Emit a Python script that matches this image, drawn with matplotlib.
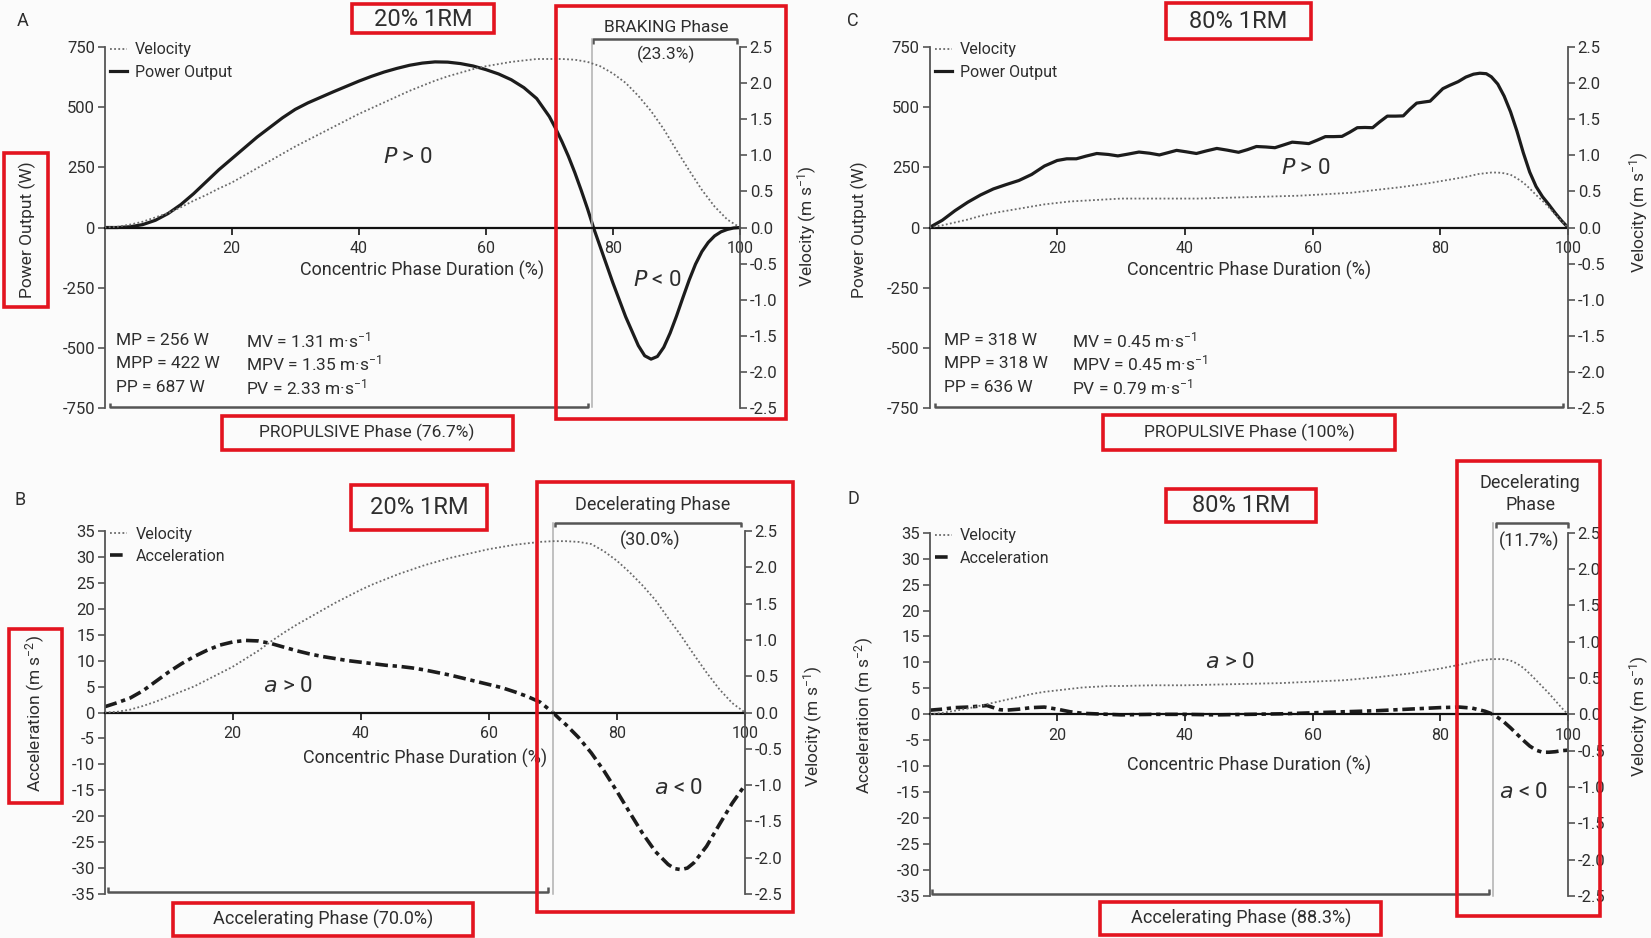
import numpy as np
import matplotlib
matplotlib.use('Agg')
import matplotlib.pyplot as plt
from matplotlib.patches import Rectangle
from matplotlib.lines import Line2D

plt.rcParams['font.family'] = ['Roboto', 'DejaVu Sans']
plt.rcParams['mathtext.default'] = 'regular'
plt.rcParams['axes.unicode_minus'] = False

# ---- data (x = % of concentric phase) ----
# A: 20% 1RM power / velocity
a_pow_x = [0, 2, 4, 6, 8, 10, 12, 14, 16, 18, 20, 22, 24, 26, 28, 30, 32, 34, 36, 38, 40,
           42, 44, 46, 48, 50, 52, 54, 56, 58, 60, 62, 64, 66, 68, 70, 71, 72, 73, 74, 75,
           76, 77, 78, 79, 80, 81, 82, 83, 84, 85, 86, 87, 88, 89, 90, 91, 92, 93, 94, 95,
           96, 97, 98, 99, 100]
a_pow_y = [0, 0, 3, 12, 30, 58, 95, 140, 190, 240, 285, 330, 375, 415, 455, 490, 517, 540,
           563, 585, 607, 627, 645, 660, 673, 682, 687, 686, 680, 670, 655, 637, 613, 580,
           535, 460, 410, 355, 295, 228, 155, 78, -5, -80, -155, -230, -300, -370, -430,
           -490, -532, -546, -535, -497, -438, -368, -292, -218, -152, -100, -62, -35, -18,
           -8, -2, 0]
a_vel_x = [0, 2, 4, 6, 8, 10, 12, 14, 16, 18, 20, 22, 24, 26, 28, 30, 32, 34, 36, 38, 40,
           42, 44, 46, 48, 50, 52, 54, 56, 58, 60, 62, 64, 66, 68, 70, 72, 74, 76, 78, 80,
           82, 84, 86, 88, 90, 92, 94, 96, 98, 100]
a_vel_y = [0, 0.01, 0.04, 0.08, 0.14, 0.2, 0.28, 0.37, 0.45, 0.54, 0.62, 0.72, 0.82, 0.92,
           1.02, 1.12, 1.21, 1.30, 1.39, 1.48, 1.57, 1.65, 1.73, 1.81, 1.89, 1.96, 2.03,
           2.09, 2.14, 2.19, 2.23, 2.26, 2.29, 2.31, 2.33, 2.33, 2.33, 2.32, 2.29, 2.23,
           2.13, 2.0, 1.82, 1.61, 1.36, 1.07, 0.79, 0.52, 0.29, 0.11, 0]

# B: 20% 1RM acceleration / velocity
b_acc_x = [0, 2, 4, 6, 8, 10, 12, 14, 16, 18, 20, 22, 24, 26, 28, 30, 32, 34, 36, 38, 40,
           42, 44, 46, 48, 50, 52, 54, 56, 58, 60, 62, 64, 66, 68, 69, 70, 71, 72, 74, 76,
           78, 80, 82, 84, 86, 88, 89, 90, 91, 92, 94, 96, 98, 100]
b_acc_y = [1.1, 1.9, 2.8, 4.2, 6.0, 7.8, 9.4, 10.8, 12.0, 13.0, 13.6, 13.9, 13.8, 13.3,
           12.6, 11.9, 11.3, 10.8, 10.4, 10.0, 9.7, 9.4, 9.1, 8.9, 8.6, 8.2, 7.7, 7.2, 6.6,
           6.0, 5.4, 4.8, 4.0, 3.1, 2.0, 1.0, 0, -1.2, -2.3, -4.8, -7.8, -11.3, -15.2,
           -19.3, -23.3, -26.8, -29.3, -30.1, -30.3, -30.0, -29.0, -25.8, -21.6, -17.5, -14.0]
b_vel_x = a_vel_x
b_vel_y = [0, 0.01, 0.04, 0.09, 0.15, 0.22, 0.29, 0.36, 0.45, 0.54, 0.63, 0.74, 0.85, 0.98,
           1.10, 1.21, 1.31, 1.41, 1.51, 1.60, 1.69, 1.77, 1.84, 1.91, 1.97, 2.03, 2.08,
           2.13, 2.17, 2.21, 2.25, 2.28, 2.31, 2.33, 2.35, 2.36, 2.36, 2.35, 2.32, 2.22,
           2.09, 1.93, 1.75, 1.55, 1.30, 1.06, 0.80, 0.55, 0.32, 0.13, 0]

# C: 80% 1RM power / velocity
c_pow_x = [0, 2, 4, 6, 8, 10, 12, 14, 16, 18, 20, 21.5, 23, 24.5, 26.2, 28, 29.5, 31, 32.8,
           34.5, 36, 37.3, 38.7, 40.2, 41.8, 43.4, 45, 46.6, 48.4, 49.8, 51.2, 52.7, 54.1,
           55.4, 56.8, 58.2, 59.4, 60.7, 62, 63.3, 64.6, 65.8, 67, 68.2, 69.4, 70.5, 71.7,
           73, 74.2, 75.2, 76.3, 77.3, 78.4, 79.4, 80.4, 81.5, 82.8, 84, 85.2, 86.2, 87.2,
           88, 89, 90, 91, 92, 93, 94, 95, 96, 97, 98, 99, 100]
c_pow_y = [0, 30, 70, 105, 135, 160, 178, 195, 220, 255, 278, 285, 285, 296, 307, 303, 297,
           304, 313, 308, 301, 310, 320, 314, 307, 318, 328, 321, 312, 323, 336, 334, 331,
           342, 354, 351, 348, 362, 377, 377, 378, 395, 414, 415, 414, 438, 462, 462, 463,
           490, 516, 520, 524, 550, 576, 590, 605, 624, 636, 640, 638, 625, 595, 545, 480,
           400, 310, 230, 170, 128, 95, 60, 28, 0]
c_vel_x = [0, 2, 4, 6, 8, 10, 12, 14, 16, 18, 20, 22, 24, 26, 28, 30, 34, 38, 42, 46, 50,
           54, 58, 62, 66, 70, 74, 78, 82, 84, 86, 88, 89, 90, 91, 92, 93, 94, 95, 96, 97,
           98, 99, 100]
c_vel_y = [0, 0.03, 0.07, 0.11, 0.16, 0.2, 0.23, 0.26, 0.29, 0.32, 0.34, 0.36, 0.37, 0.38,
           0.39, 0.4, 0.4, 0.4, 0.4, 0.41, 0.42, 0.43, 0.44, 0.46, 0.48, 0.52, 0.56, 0.61,
           0.67, 0.7, 0.74, 0.76, 0.76, 0.75, 0.73, 0.68, 0.62, 0.54, 0.45, 0.37, 0.28,
           0.18, 0.09, 0]

# D: 80% 1RM acceleration / velocity
d_acc_x = [0, 2, 4, 6, 8, 9, 10, 11, 12, 14, 16, 18, 19, 20, 22, 24, 26, 28, 30, 35, 40,
           45, 50, 55, 60, 65, 70, 75, 80, 83, 85, 87, 88.3, 89, 90, 91, 92, 93, 94, 95,
           96, 97, 98, 99, 100]
d_acc_y = [0.8, 1.0, 1.3, 1.4, 1.6, 1.7, 1.3, 0.9, 0.8, 1.0, 1.3, 1.4, 1.2, 1.0, 0.5, 0.2,
           0.1, 0.0, -0.1, 0.0, 0.0, -0.1, 0.0, 0.1, 0.3, 0.5, 0.7, 1.0, 1.3, 1.4, 1.2, 0.6,
           0, -0.6, -1.5, -2.6, -3.8, -5.0, -6.1, -6.9, -7.3, -7.3, -7.2, -7.0, -6.9]
d_vel_x = [0, 2, 4, 6, 8, 10, 12, 14, 16, 18, 20, 22, 24, 26, 28, 30, 35, 40, 45, 50, 55,
           60, 65, 70, 75, 80, 84, 86, 88, 90, 91, 92, 93, 94, 95, 96, 97, 98, 99, 100]
d_vel_y = [0, 0.02, 0.05, 0.08, 0.12, 0.16, 0.2, 0.24, 0.28, 0.31, 0.33, 0.35, 0.37, 0.38,
           0.39, 0.39, 0.4, 0.4, 0.41, 0.42, 0.43, 0.45, 0.47, 0.51, 0.56, 0.63, 0.7, 0.74,
           0.76, 0.76, 0.74, 0.7, 0.64, 0.56, 0.47, 0.38, 0.29, 0.19, 0.09, 0]

# phase splits (%)
split_a, split_b, split_d = 76.7, 70.0, 88.3

stats_a = [('MP = 256 W', 'MV = 1.31 m·s$^{-1}$'),
           ('MPP = 422 W', 'MPV = 1.35 m·s$^{-1}$'),
           ('PP = 687 W', 'PV = 2.33 m·s$^{-1}$')]
stats_c = [('MP = 318 W', 'MV = 0.45 m·s$^{-1}$'),
           ('MPP = 318 W', 'MPV = 0.45 m·s$^{-1}$'),
           ('PP = 636 W', 'PV = 0.79 m·s$^{-1}$')]

pow_ticks = [-750, -500, -250, 0, 250, 500, 750]
acc_ticks = list(range(-35, 40, 5))
vel_ticks = [-2.5, -2.0, -1.5, -1.0, -0.5, 0.0, 0.5, 1.0, 1.5, 2.0, 2.5]

# ---- layout helpers (pixel coords of the 1651x938 image) ----
W, H = 1651, 938
TXT = '#2e2e2e'
RED = '#e3141f'
VEL_STYLE = dict(color='#6a6a6a', lw=1.3, ls=(0, (1, 1.3)))
POW_STYLE = dict(color='#1c1c1c', lw=2.3, ls='-')
ACC_STYLE = dict(color='#1c1c1c', lw=2.6, ls=(0, (3.5, 1.3, 1.2, 1.3)))


def fx(x):
    return x / W


def fy(y):
    return 1 - y / H


def ftext(fig, x, y, s, **kw):
    kw.setdefault('color', TXT)
    kw.setdefault('ha', 'center')
    kw.setdefault('va', 'center')
    fig.text(fx(x), fy(y), s, **kw)


def red_box(fig, x0, y0, x1, y1):
    fig.add_artist(Rectangle((fx(x0), fy(y1)), fx(x1) - fx(x0), fy(y0) - fy(y1),
                             transform=fig.transFigure, fill=False, ec=RED, lw=2.6,
                             zorder=20))


def make_axes(fig, box, ylim, yticks):
    x0, y0, x1, y1 = box
    ax = fig.add_axes([fx(x0), fy(y1), fx(x1) - fx(x0), fy(y0) - fy(y1)])
    ax.patch.set_visible(False)
    ax.set_xlim(0, 100)
    ax.set_ylim(ylim)
    ax.set_yticks(yticks)
    ax.set_xticks([20, 40, 60, 80, 100])
    for s in ['top', 'right']:
        ax.spines[s].set_visible(False)
    ax.spines['bottom'].set_position(('data', 0))
    ax.spines['bottom'].set_color('#111')
    ax.spines['bottom'].set_linewidth(1.6)
    ax.spines['left'].set_color('#555')
    ax.spines['left'].set_linewidth(1.3)
    ax.tick_params(axis='y', direction='out', length=5, width=1.2, color='#555',
                   labelsize=12, labelcolor=TXT, pad=2)
    ax.tick_params(axis='x', direction='out', length=5, width=1.2, color='#111',
                   labelsize=11.5, labelcolor=TXT, pad=5)
    ax2 = ax.twinx()
    ax2.set_ylim(-2.5, 2.5)
    ax2.set_yticks(vel_ticks)
    ax2.set_yticklabels(['%.1f' % v for v in vel_ticks])
    for s in ['top', 'left', 'bottom']:
        ax2.spines[s].set_visible(False)
    ax2.spines['right'].set_color('#555')
    ax2.spines['right'].set_linewidth(1.3)
    ax2.tick_params(axis='y', direction='out', length=5, width=1.2, color='#555',
                    labelsize=12, labelcolor=TXT, pad=2)
    return ax, ax2


def bracket(ax, x0, x1, y, hook, color='#555', lw=1.8):
    ax.plot([x0, x0, x1, x1], [y + hook, y, y, y + hook], color=color, lw=lw,
            clip_on=False, solid_capstyle='butt', solid_joinstyle='round')


def legend(ax, label2, style2, anchor_y=1.012):
    handles = [Line2D([], [], **VEL_STYLE), Line2D([], [], **style2)]
    leg = ax.legend(handles, ['Velocity', label2], loc='upper left',
                    bbox_to_anchor=(0.008, anchor_y), frameon=False, fontsize=11.5,
                    handlelength=1.1, handletextpad=0.5, labelspacing=0.45,
                    borderpad=0, borderaxespad=0)
    for t in leg.get_texts():
        t.set_color(TXT)


fig = plt.figure(figsize=(W / 100, H / 100), dpi=100, facecolor='#fbfbfb')

XLABEL = 'Concentric Phase Duration (%)'
VLABEL = 'Velocity (m s$^{-1}$)'

# ---------------- A ----------------
ax, ax2 = make_axes(fig, (104.6, 46.7, 740, 408.3), (-750, 750), pow_ticks)
ax.plot(a_pow_x, a_pow_y, **POW_STYLE)
ax2.plot(a_vel_x, a_vel_y, **VEL_STYLE)
ax.set_xlabel(XLABEL, fontsize=13, color=TXT, labelpad=3)
legend(ax, 'Power Output', POW_STYLE)
bracket(ax, 0.8, split_a - 0.7, -744, 18)
bracket(ax, split_a + 0.2, 99.5, 782, -20)
ax.plot([split_a, split_a], [-744, 782], color='#b0b0b0', lw=1.1, clip_on=False)
for i, (s1, s2) in enumerate(stats_a):
    ftext(fig, 116, 340 + i * 23.5, s1, ha='left', fontsize=12.5)
    ftext(fig, 246, 340 + i * 23.5, s2, ha='left', fontsize=12.5)
ftext(fig, 408, 157, '$\\mathit{P}$ > 0', fontsize=16)
ftext(fig, 658, 280, '$\\mathit{P}$ < 0', fontsize=16)

# ---------------- C ----------------
ax, ax2 = make_axes(fig, (929.5, 46.7, 1568, 408.3), (-750, 750), pow_ticks)
ax.plot(c_pow_x, c_pow_y, **POW_STYLE)
ax2.plot(c_vel_x, c_vel_y, **VEL_STYLE)
ax.set_xlabel(XLABEL, fontsize=13, color=TXT, labelpad=3)
legend(ax, 'Power Output', POW_STYLE)
bracket(ax, 0.8, 99.2, -744, 18)
for i, (s1, s2) in enumerate(stats_c):
    ftext(fig, 944, 340 + i * 23.5, s1, ha='left', fontsize=12.5)
    ftext(fig, 1072, 340 + i * 23.5, s2, ha='left', fontsize=12.5)
ftext(fig, 1306, 168, '$\\mathit{P}$ > 0', fontsize=16)

# ---------------- B ----------------
ax, ax2 = make_axes(fig, (104.6, 531, 745, 894), (-35, 35), acc_ticks)
ax.plot(b_acc_x, b_acc_y, **ACC_STYLE)
ax2.plot(b_vel_x, b_vel_y, **VEL_STYLE)
ax.set_xlabel(XLABEL, fontsize=13, color=TXT, labelpad=5)
legend(ax, 'Acceleration', ACC_STYLE)
bracket(ax, 0.5, split_b - 0.7, -34.7, 1.0)
bracket(ax, split_b + 0.3, 99.4, 36.6, -0.9)
ax.plot([split_b, split_b], [-35, 36.6], color='#b0b0b0', lw=1.1, clip_on=False)
ftext(fig, 288, 687, '$\\mathit{a}$ > 0', fontsize=16)
ftext(fig, 679, 788, '$\\mathit{a}$ < 0', fontsize=16)

# ---------------- D ----------------
ax, ax2 = make_axes(fig, (929.5, 532.7, 1568, 896), (-35, 35), acc_ticks)
ax.plot(d_acc_x, d_acc_y, **ACC_STYLE)
ax2.plot(d_vel_x, d_vel_y, **VEL_STYLE)
ax.set_xlabel(XLABEL, fontsize=13, color=TXT, labelpad=9)
legend(ax, 'Acceleration', ACC_STYLE)
bracket(ax, 0.4, split_d - 0.7, -34.6, 1.0)
bracket(ax, split_d + 0.4, 100, 36.8, -0.8)
ax.plot([split_d, split_d], [-35, 36.8], color='#b0b0b0', lw=1.1, clip_on=False)
ftext(fig, 1230, 662, '$\\mathit{a}$ > 0', fontsize=16)
ftext(fig, 1524, 792, '$\\mathit{a}$ < 0', fontsize=16)

# ---------------- figure texts ----------------
for x, y, s in [(23, 21, 'A'), (20, 500, 'B'), (853, 21, 'C'), (853, 499, 'D')]:
    ftext(fig, x, y, s, fontsize=13)

ftext(fig, 423, 19, '20% 1RM', fontsize=17)
ftext(fig, 1238, 21, '80% 1RM', fontsize=17)
ftext(fig, 419, 507, '20% 1RM', fontsize=17)
ftext(fig, 1241, 505, '80% 1RM', fontsize=17)

ftext(fig, 666, 28, 'BRAKING Phase', fontsize=12.5)
ftext(fig, 666, 54, '(23.3%)', fontsize=12.5)
ftext(fig, 653, 505, 'Decelerating Phase', fontsize=13)
ftext(fig, 650, 540, '(30.0%)', fontsize=13)
ftext(fig, 1530, 483, 'Decelerating', fontsize=13)
ftext(fig, 1530, 505, 'Phase', fontsize=13)
ftext(fig, 1529, 541, '(11.7%)', fontsize=13)

ftext(fig, 367, 432, 'PROPULSIVE Phase (76.7%)', fontsize=12.5)
ftext(fig, 1249, 432, 'PROPULSIVE Phase (100%)', fontsize=12.5)
ftext(fig, 323, 919, 'Accelerating Phase (70.0%)', fontsize=13)
ftext(fig, 1241, 918, 'Accelerating Phase (88.3%)', fontsize=13)

ftext(fig, 27, 230, 'Power Output (W)', rotation=90, fontsize=12.5)
ftext(fig, 859, 230, 'Power Output (W)', rotation=90, fontsize=12.5)
ftext(fig, 35, 714, 'Acceleration (m s$^{-2}$)', rotation=90, fontsize=12.5)
ftext(fig, 864, 716, 'Acceleration (m s$^{-2}$)', rotation=90, fontsize=12.5)
ftext(fig, 807, 226, VLABEL, rotation=90, fontsize=12.5)
ftext(fig, 813, 726, VLABEL, rotation=90, fontsize=12.5)
ftext(fig, 1639, 212, VLABEL, rotation=90, fontsize=12.5)
ftext(fig, 1639, 716, VLABEL, rotation=90, fontsize=12.5)

# red highlight boxes
red_box(fig, 352, 4, 494, 33)
red_box(fig, 556, 6, 786, 419)
red_box(fig, 4, 153, 48, 307)
red_box(fig, 222, 416, 513, 450)
red_box(fig, 1166, 3, 1311, 39)
red_box(fig, 1103, 415, 1395, 450)
red_box(fig, 351, 485, 487, 530)
red_box(fig, 537, 482, 793, 912)
red_box(fig, 9, 629, 62, 803)
red_box(fig, 173, 903, 473, 936)
red_box(fig, 1166, 489, 1316, 522)
red_box(fig, 1457, 461, 1600, 916)
red_box(fig, 1100, 902, 1381, 935)

fig.savefig('out.png', dpi=100, facecolor=fig.get_facecolor())
